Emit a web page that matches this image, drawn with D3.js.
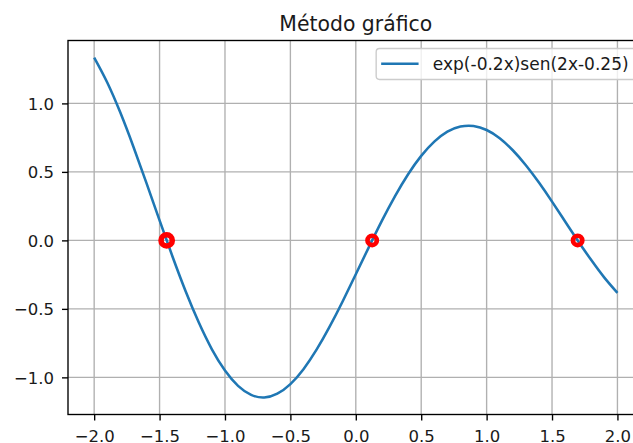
<!DOCTYPE html>
<html>
<head>
<meta charset="utf-8">
<script src="https://cdn.jsdelivr.net/npm/d3@7"></script>
<style>
  html, body { margin: 0; padding: 0; background: #fff; }
  svg { display: block; font-family: "DejaVu Sans", sans-serif; }
</style>
</head>
<body>
<div id="chart"></div>
<script>
// valores (paso 0.1)
const xValues = [-2.0, -1.9, -1.8, -1.7, -1.6, -1.5, -1.4, -1.3, -1.2, -1.1,
                 -1.0, -0.9, -0.8, -0.7, -0.6, -0.5, -0.4, -0.3, -0.2, -0.1,
                 0.0, 0.1, 0.2, 0.3, 0.4, 0.5, 0.6, 0.7, 0.8, 0.9,
                 1.0, 1.1, 1.2, 1.3, 1.4, 1.5, 1.6, 1.7, 1.8, 1.9, 2.0];
const yValues = [1.335, 1.153, 0.933, 0.684, 0.418, 0.146, -0.121, -0.373, -0.600, -0.795,
                 -0.950, -1.062, -1.128, -1.147, -1.119, -1.049, -0.940, -0.798, -0.630, -0.444,
                 -0.247, -0.049, 0.144, 0.323, 0.483, 0.617, 0.721, 0.794, 0.831, 0.835,
                 0.806, 0.746, 0.658, 0.549, 0.422, 0.283, 0.138, -0.006, -0.144, -0.272, -0.383];
const rootsX = [-1.4458, 0.125, 1.6958];
const rootsY = [0, 0, 0];
const xTicks = [-2.0, -1.5, -1.0, -0.5, 0.0, 0.5, 1.0, 1.5, 2.0];
const yTicks = [-1.0, -0.5, 0.0, 0.5, 1.0];
const seriesLabel = "exp(-0.2x)sen(2x-0.25)";
const title = "Método gráfico";

const width = 633, height = 443;
const mLeft = 68, mTop = 40.5, mRight = 643.6, mBottom = 414.5;

const svg = d3.select("#chart").append("svg")
    .attr("width", width)
    .attr("height", height);

const x = d3.scaleLinear().domain([-2.2, 2.2]).range([mLeft, mRight]);
const y = d3.scaleLinear().domain([-1.2711, 1.4592]).range([mBottom, mTop]);

const fmt = d => (d < 0 ? "\u2212" : "") + Math.abs(d).toFixed(1);

// rejilla
const gGrid = svg.append("g").attr("stroke", "#b0b0b0").attr("stroke-width", 1.36);
gGrid.selectAll(".gx").data(xTicks).enter().append("line")
    .attr("x1", d => x(d)).attr("x2", d => x(d))
    .attr("y1", mTop).attr("y2", mBottom);
gGrid.selectAll(".gy").data(yTicks).enter().append("line")
    .attr("x1", mLeft).attr("x2", mRight)
    .attr("y1", d => y(d)).attr("y2", d => y(d));

// ejes
const xAxis = svg.append("g")
    .attr("transform", `translate(0,${mBottom})`)
    .call(d3.axisBottom(x).tickValues(xTicks).tickFormat(fmt).tickSizeInner(6).tickSizeOuter(0).tickPadding(6));
const yAxis = svg.append("g")
    .attr("transform", `translate(${mLeft},0)`)
    .call(d3.axisLeft(y).tickValues(yTicks).tickFormat(fmt).tickSizeInner(6).tickSizeOuter(0).tickPadding(8));

[xAxis, yAxis].forEach(g => {
    g.select(".domain").remove();
    g.selectAll(".tick line").attr("stroke", "#000").attr("stroke-width", 1.36);
    g.selectAll(".tick text")
        .attr("fill", "#1a1a1a")
        .style("font-size", "16.5px")
        .style("font-family", "DejaVu Sans");
});
xAxis.selectAll(".tick text").attr("y", 0).attr("dy", null).attr("transform", "translate(0,27)");
yAxis.selectAll(".tick text").attr("dy", "0.36em");

// curva
const line = d3.line()
    .x((d, i) => x(xValues[i]))
    .y(d => y(d))
    .curve(d3.curveNatural);

svg.append("path")
    .datum(yValues)
    .attr("fill", "none")
    .attr("stroke", "#1f77b4")
    .attr("stroke-width", 2.55)
    .attr("stroke-linejoin", "round")
    .attr("stroke-linecap", "butt")
    .attr("d", line);

// raíces
svg.append("g").selectAll("circle")
    .data(rootsX)
    .enter().append("circle")
    .attr("cx", d => x(d))
    .attr("cy", (d, i) => y(rootsY[i]))
    .attr("r", (d, i) => i === 0 ? 5.6 : 4.7)
    .attr("fill", "none")
    .attr("stroke", "#ff0000")
    .attr("stroke-width", (d, i) => i === 0 ? 5.6 : 4.6);

// marco
svg.append("rect")
    .attr("x", mLeft).attr("y", mTop)
    .attr("width", mRight - mLeft).attr("height", mBottom - mTop)
    .attr("fill", "none")
    .attr("stroke", "#000")
    .attr("stroke-width", 1.36);

// título
svg.append("text")
    .attr("x", (mLeft + mRight) / 2)
    .attr("y", 31)
    .attr("text-anchor", "middle")
    .attr("fill", "#1a1a1a")
    .style("font-size", "20.4px")
    .text(title);

// leyenda
const legend = svg.append("g");
const legRight = mRight - 8;
const legText = legend.append("text")
    .attr("y", 63.8)
    .attr("dy", "0.36em")
    .attr("fill", "#1a1a1a")
    .style("font-size", "17px")
    .text(seriesLabel);
const tw = legText.node().getComputedTextLength();
const textX = legRight - 7 - tw;
legText.attr("x", textX);
const boxX = textX - 14.3 - 37.4 - 5;
legend.insert("rect", "text")
    .attr("x", boxX).attr("y", 48.5)
    .attr("width", legRight - boxX).attr("height", 31)
    .attr("rx", 3.4)
    .attr("fill", "#fff").attr("fill-opacity", 0.8)
    .attr("stroke", "#cccccc").attr("stroke-width", 1.36);
legend.append("line")
    .attr("x1", boxX + 5).attr("x2", boxX + 5 + 37.4)
    .attr("y1", 63.8).attr("y2", 63.8)
    .attr("stroke", "#1f77b4").attr("stroke-width", 2.55);
</script>
</body>
</html>
